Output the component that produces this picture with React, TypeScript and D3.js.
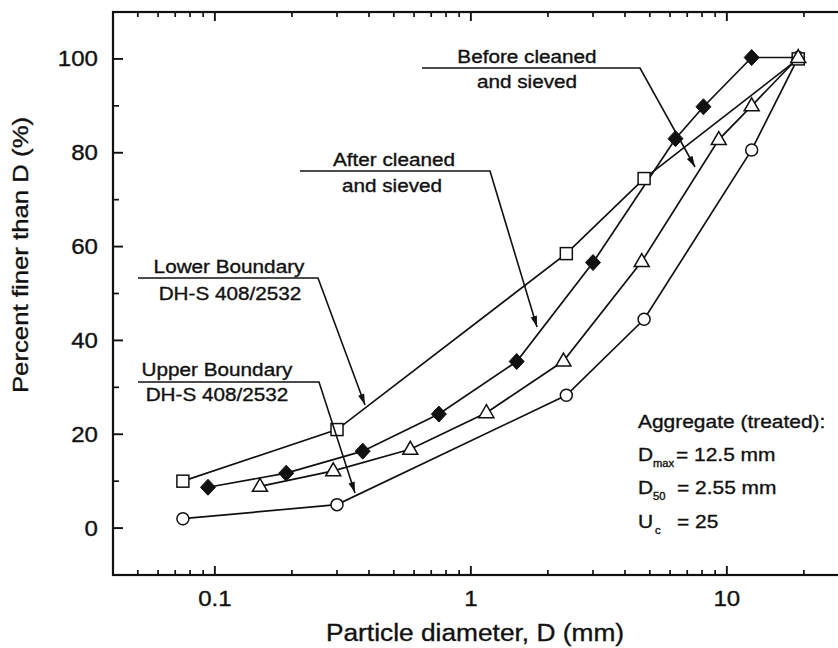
import React from 'react';
import * as d3 from 'd3';

// sieve sizes (mm) and percent passing for each curve
const lowerD = [0.075, 0.3, 2.36, 4.75, 19];
const lowerP = [10, 21, 58.5, 74.5, 100];

const afterD = [0.094, 0.19, 0.378, 0.75, 1.51, 3.0, 6.3, 8.1, 12.5, 19];
const afterP = [8.7, 11.7, 16.4, 24.3, 35.5, 56.6, 83, 89.8, 100.3, 100.3];

const beforeD = [0.15, 0.29, 0.58, 1.15, 2.3, 4.65, 9.3, 12.5, 19];
const beforeP = [8.9, 12.2, 16.8, 24.6, 35.6, 56.8, 82.8, 90, 100.3];

const upperD = [0.075, 0.3, 2.36, 4.75, 12.5, 19];
const upperP = [2, 5, 28.3, 44.5, 80.6, 100.3];

const xTickLabels = ['0.1', '1', '10'];
const yTickLabels = ['0', '20', '40', '60', '80', '100'];

const W = 838;
const H = 648;
const margin = { left: 113, right: 849, top: 12, bottom: 575 };
const FONT = 'Arial, "Liberation Sans", sans-serif';
const SX = 1.12; // the scan's text is a bit wide

const x = d3.scaleLog().domain([0.04, 30]).range([margin.left, margin.right]);
const y = d3.scaleLinear().domain([-10, 110]).range([margin.bottom, margin.top]);

const T = ({ x, y, size, anchor = 'start', children }: any) => (
  <text
    transform={`translate(${x},${y}) scale(${SX},1)`}
    fontSize={size}
    fontFamily={FONT}
    textAnchor={anchor}
    fill="#111"
    stroke="#111"
    strokeWidth={0.35}
  >
    {children}
  </text>
);

const pts = (ds: number[], ps: number[]) => ds.map((d, i) => [d, ps[i]] as [number, number]);

const line = d3
  .line<[number, number]>()
  .x((d) => x(d[0]))
  .y((d) => y(d[1]));

const Marker = ({ kind, cx, cy }: any) => {
  if (kind === 'square') return <rect x={cx - 6} y={cy - 6} width={12} height={12} fill="#fff" stroke="#111" strokeWidth={1.5} />;
  if (kind === 'circle') return <circle cx={cx} cy={cy} r={6} fill="#fff" stroke="#111" strokeWidth={1.5} />;
  if (kind === 'triangle')
    return <path d={`M${cx},${cy - 8}L${cx + 7.5},${cy + 5}L${cx - 7.5},${cy + 5}Z`} fill="#fff" stroke="#111" strokeWidth={1.5} />;
  return <path d={`M${cx},${cy - 8}L${cx + 7.5},${cy}L${cx},${cy + 8}L${cx - 7.5},${cy}Z`} fill="#111" stroke="#111" strokeWidth={1} />;
};

const series = [
  { kind: 'diamond', data: pts(afterD, afterP), hideLast: true },
  { kind: 'circle', data: pts(upperD, upperP), hideLast: false },
  { kind: 'square', data: pts(lowerD, lowerP), hideLast: false },
  { kind: 'triangle', data: pts(beforeD, beforeP), hideLast: false },
];

// leader lines for the labels: underline, then a slanted arrow to the curve
const leaders = [
  [[422, 68], [640, 68], [695, 167]],
  [[300, 171], [490, 171], [537, 327]],
  [[138, 278], [318, 278], [365, 405]],
  [[138, 382], [319, 382], [355, 493]],
];

const arrowHead = (p: number[], q: number[]) => {
  const a = Math.atan2(q[1] - p[1], q[0] - p[0]);
  const L = 11, w = 3.2;
  const bx = q[0] - L * Math.cos(a), by = q[1] - L * Math.sin(a);
  const nx = -Math.sin(a) * w, ny = Math.cos(a) * w;
  return `M${q[0]},${q[1]}L${bx + nx},${by + ny}L${bx - nx},${by - ny}Z`;
};

export default function App() {
  const xMinor: number[] = [];
  for (const dec of [0.01, 0.1, 1, 10]) {
    for (let k = 2; k <= 9; k++) {
      const v = dec * k;
      if (v >= 0.04 && v <= 30) xMinor.push(v);
    }
  }
  const xMajor = xTickLabels.map(Number);
  const yMajor = yTickLabels.map(Number);
  const yMinor = d3.range(-10, 111, 20);

  return (
    <svg width={W} height={H} style={{ position: 'absolute', left: 0, top: 0, background: '#fff' }}>
      <rect width={W} height={H} fill="#fff" />
      {/* frame */}
      <rect
        x={margin.left}
        y={margin.top}
        width={margin.right - margin.left}
        height={margin.bottom - margin.top}
        fill="none"
        stroke="#111"
        strokeWidth={2.2}
      />
      {/* x ticks, inward on bottom and top */}
      {xMinor.map((v) => (
        <g key={'xm' + v}>
          <line x1={x(v)} x2={x(v)} y1={margin.bottom} y2={margin.bottom - 5} stroke="#111" strokeWidth={1.7} />
          <line x1={x(v)} x2={x(v)} y1={margin.top} y2={margin.top + 5} stroke="#111" strokeWidth={1.7} />
        </g>
      ))}
      {xMajor.map((v, i) => (
        <g key={'xM' + v}>
          <line x1={x(v)} x2={x(v)} y1={margin.bottom} y2={margin.bottom - 9} stroke="#111" strokeWidth={1.9} />
          <line x1={x(v)} x2={x(v)} y1={margin.top} y2={margin.top + 9} stroke="#111" strokeWidth={1.9} />
          <T x={x(v)} y={606} size={21.5} anchor="middle">{xTickLabels[i]}</T>
        </g>
      ))}
      {/* y ticks */}
      {yMinor.map((v) => (
        <g key={'ym' + v}>
          <line x1={margin.left} x2={margin.left + 6} y1={y(v)} y2={y(v)} stroke="#111" strokeWidth={1.7} />
          <line x1={margin.right} x2={margin.right - 6} y1={y(v)} y2={y(v)} stroke="#111" strokeWidth={1.7} />
        </g>
      ))}
      {yMajor.map((v, i) => (
        <g key={'yM' + v}>
          <line x1={margin.left} x2={margin.left + 10} y1={y(v)} y2={y(v)} stroke="#111" strokeWidth={1.9} />
          <line x1={margin.right} x2={margin.right - 11} y1={y(v)} y2={y(v)} stroke="#111" strokeWidth={1.9} />
          <T x={98} y={y(v) + 7.5} size={21.5} anchor="end">{yTickLabels[i]}</T>
        </g>
      ))}
      {/* axis titles */}
      <T x={475} y={641} size={23.5} anchor="middle">Particle diameter, D (mm)</T>
      <g transform={`translate(28,255) rotate(-90)`}>
        <T x={0} y={0} size={23} anchor="middle">Percent finer than D (%)</T>
      </g>

      {/* curves */}
      {series.map((s) => (
        <path key={'l' + s.kind} d={line(s.data) || ''} fill="none" stroke="#111" strokeWidth={1.7} />
      ))}
      {series.map((s) =>
        s.data.map((p, i) =>
          s.hideLast && i === s.data.length - 1 ? null : (
            <Marker key={s.kind + i} kind={s.kind} cx={x(p[0])} cy={y(p[1])} />
          )
        )
      )}

      {/* leaders */}
      {leaders.map((pl, i) => (
        <g key={'ld' + i}>
          <polyline points={pl.map((p) => p.join(',')).join(' ')} fill="none" stroke="#111" strokeWidth={1.6} />
          <path d={arrowHead(pl[1], pl[2])} fill="#111" />
        </g>
      ))}
      <T x={527} y={63} size={18.5} anchor="middle">Before cleaned</T>
      <T x={527} y={88} size={18.5} anchor="middle">and sieved</T>
      <T x={394} y={166} size={18.5} anchor="middle">After cleaned</T>
      <T x={392} y={192} size={18.5} anchor="middle">and sieved</T>
      <T x={229} y={273} size={18.5} anchor="middle">Lower Boundary</T>
      <T x={230} y={300} size={18.5} anchor="middle">DH-S 408/2532</T>
      <T x={217} y={376} size={18.5} anchor="middle">Upper Boundary</T>
      <T x={217} y={401} size={18.5} anchor="middle">DH-S 408/2532</T>

      {/* aggregate info */}
      <T x={638} y={428} size={18.7}>Aggregate (treated):</T>
      <T x={638} y={461} size={18.7}>D</T>
      <T x={653} y={467} size={10}>max</T>
      <T x={676} y={461} size={18.7}>= 12.5 mm</T>
      <T x={638} y={494} size={18.7}>D</T>
      <T x={653} y={500} size={10}>50</T>
      <T x={677} y={494} size={18.7}>= 2.55 mm</T>
      <T x={638} y={528} size={18.7}>U</T>
      <T x={655} y={534} size={10}>c</T>
      <T x={677} y={528} size={18.7}>= 25</T>
    </svg>
  );
}
